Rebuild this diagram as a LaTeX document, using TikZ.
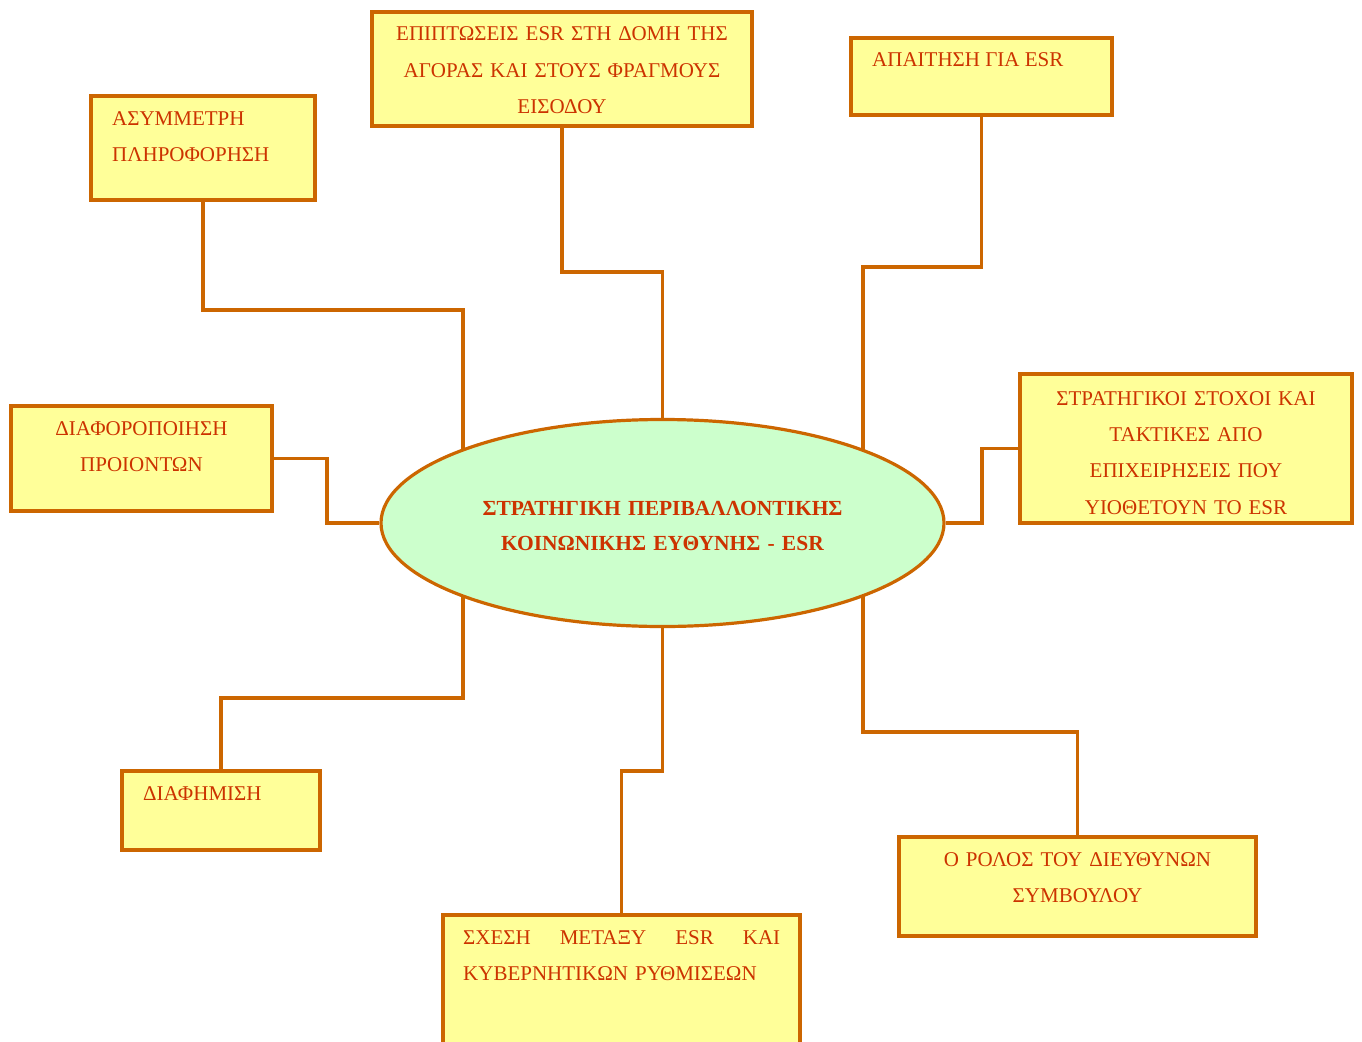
\documentclass[tikz,border=0pt]{standalone}
\usepackage{fontspec}
\setmainfont{Liberation Serif}
\usetikzlibrary{calc,shapes.geometric}
\pgfdeclarelayer{background}
\pgfsetlayers{background,main}

\definecolor{edgeorange}{RGB}{204,102,0}
\definecolor{labelred}{RGB}{204,51,0}
\definecolor{boxyellow}{RGB}{255,255,153}
\definecolor{ovalgreen}{RGB}{204,255,204}

\begin{document}
\begin{tikzpicture}[x=1pt,y=-1pt,
  topicbox/.style={draw=edgeorange,fill=boxyellow,line width=4pt,rectangle,inner sep=0pt},
  core/.style={draw=edgeorange,fill=ovalgreen,line width=3.2pt,ellipse,inner sep=0pt},
  caption/.style={text=labelred,inner sep=0pt,font=\fontsize{21}{36.4}\selectfont},
  link/.style={draw=edgeorange,line width=3.8pt}]

\useasboundingbox (0,0) rectangle (1362,1041);
\clip (0,0) rectangle (1362,1041);

% central oval
\node[core,minimum width=563pt,minimum height=207pt] (ell) at (662.5,523) {};
\node[caption,anchor=base,text width=520pt,align=center,
      font=\fontsize{21.5}{35}\selectfont\bfseries] (elltxt) at (662.5,515.5)
  {ΣΤΡΑΤΗΓΙΚΗ ΠΕΡΙΒΑΛΛΟΝΤΙΚΗΣ\\ ΚΟΙΝΩΝΙΚΗΣ ΕΥΘΥΝΗΣ - ESR};

% surrounding topics
\node[topicbox,minimum width=380pt,minimum height=114pt] (epi) at (562,69) {};
\node[caption,anchor=base,text width=370pt,align=center] (epitxt) at (562,40.7)
  {ΕΠΙΠΤΩΣΕΙΣ ESR ΣΤΗ ΔΟΜΗ ΤΗΣ\\ ΑΓΟΡΑΣ ΚΑΙ ΣΤΟΥΣ ΦΡΑΓΜΟΥΣ\\ ΕΙΣΟΔΟΥ};

\node[topicbox,minimum width=261pt,minimum height=77pt] (apa) at (981.5,76.5) {};
\node[caption,anchor=base west] (apatxt) at (872,66.5) {ΑΠΑΙΤΗΣΗ ΓΙΑ ESR};

\node[topicbox,minimum width=224pt,minimum height=104pt] (asy) at (203,148) {};
\node[caption,anchor=base west,text width=200pt,align=left] (asytxt) at (112,125)
  {ΑΣΥΜΜΕΤΡΗ\\ ΠΛΗΡΟΦΟΡΗΣΗ};

\node[topicbox,minimum width=261pt,minimum height=105pt] (dia) at (141.5,458.5) {};
\node[caption,anchor=base,text width=250pt,align=center] (diatxt) at (141.5,435)
  {ΔΙΑΦΟΡΟΠΟΙΗΣΗ\\ ΠΡΟΙΟΝΤΩΝ};

\node[topicbox,minimum width=332pt,minimum height=149pt] (str) at (1186,448.5) {};
\node[caption,anchor=base,text width=320pt,align=center] (strtxt) at (1186,405)
  {ΣΤΡΑΤΗΓΙΚΟΙ ΣΤΟΧΟΙ ΚΑΙ\\ ΤΑΚΤΙΚΕΣ ΑΠΟ\\ ΕΠΙΧΕΙΡΗΣΕΙΣ ΠΟΥ\\ ΥΙΟΘΕΤΟΥΝ ΤΟ ESR};

\node[topicbox,minimum width=198pt,minimum height=79pt] (dif) at (221,810.5) {};
\node[caption,anchor=base west] (diftxt) at (143,800) {ΔΙΑΦΗΜΙΣΗ};

\node[topicbox,minimum width=357pt,minimum height=140pt] (sxe) at (621.5,985) {};
\node[caption,anchor=base west,text width=317pt,align=left] (sxetxt) at (463,944)
  {ΣΧΕΣΗ\hfill ΜΕΤΑΞΥ\hfill ESR\hfill ΚΑΙ\\ ΚΥΒΕΡΝΗΤΙΚΩΝ ΡΥΘΜΙΣΕΩΝ};

\node[topicbox,minimum width=357pt,minimum height=99pt] (rol) at (1077.5,886.5) {};
\node[caption,anchor=base,text width=350pt,align=center] (roltxt) at (1077.5,866.5)
  {Ο ΡΟΛΟΣ ΤΟΥ ΔΙΕΥΘΥΝΩΝ\\ ΣΥΜΒΟΥΛΟΥ};

% white page and orthogonal connectors, kept behind the oval
\begin{pgfonlayer}{background}
  \fill[white] (0,0) rectangle (1362,1041);
  \draw[link] (asy.south) |- (463,310) -- ($(ell.center)+(-199.5,0)$);
  \draw[link] (epi.south) |- (662.5,272) -- (ell.north);
  \draw[link] (apa.south) |- (863,267) -- ($(ell.center)+(200.5,0)$);
  \draw[link] (dia.east) -- (327,458.5) |- (ell.west);
  \draw[link] (str.west) -- (982,448.5) |- (ell.east);
  \draw[link] (dif.north) |- (463,698) -- ($(ell.center)+(-199.5,0)$);
  \draw[link] (sxe.north) |- (662.5,771) -- (ell.south);
  \draw[link] (rol.north) |- (863,732) -- ($(ell.center)+(200.5,0)$);
\end{pgfonlayer}
\end{tikzpicture}
\end{document}
